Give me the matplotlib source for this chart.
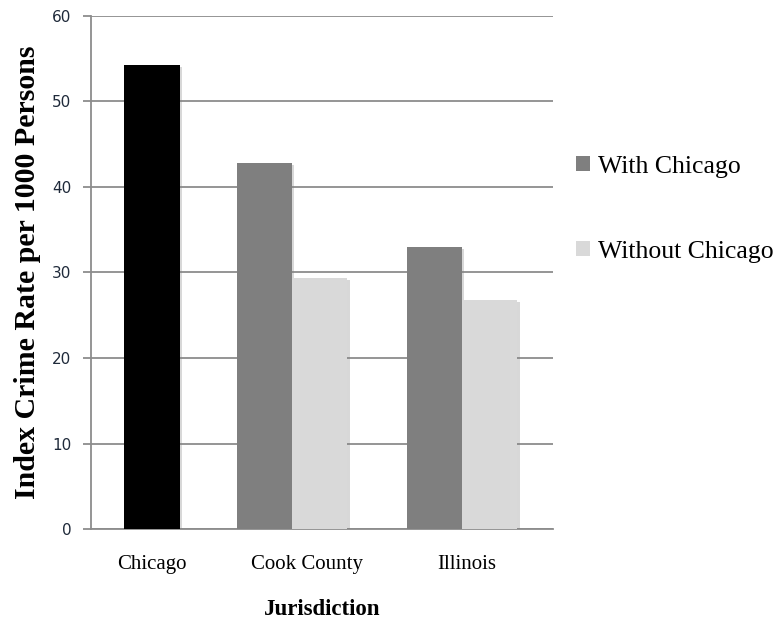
import matplotlib
matplotlib.use("Agg")
import matplotlib.pyplot as plt
import matplotlib.patheffects as pe
from matplotlib.patches import Patch

# Index crime rate per 1000 persons
categories = ["Chicago", "Cook County", "Illinois"]
chicago_value = [54.3]
with_chicago = [42.8, 33.0]
without_chicago = [29.4, 26.8]
series_names = ["With Chicago", "Without Chicago"]
y_ticks = [0, 10, 20, 30, 40, 50, 60]

# layout: category slots on a 0..3 axis
chicago_pos = [0.396]
group_pos = [1.305, 2.409]
label_pos = [0.396, 1.40, 2.44]
bar_w = 0.36

fig = plt.figure(figsize=(7.82, 6.22), dpi=100)
ax = fig.add_axes([0.1164, 0.1495, 0.5908, 0.8248])

shadow = [pe.SimplePatchShadow(offset=(1.5, -1.5), shadow_rgbFace="0.5", alpha=0.3), pe.Normal()]

b0 = ax.bar(chicago_pos, chicago_value, width=bar_w, color="#000000", zorder=3)
b1 = ax.bar([p - bar_w / 2 for p in group_pos], with_chicago, width=bar_w,
            color="#7f7f7f", zorder=3)
b2 = ax.bar([p + bar_w / 2 for p in group_pos], without_chicago, width=bar_w,
            color="#d9d9d9", zorder=3)
for bars in (b0, b1, b2):
    for r in bars:
        r.set_path_effects(shadow)

ax.set_xlim(0, 3)
ax.set_ylim(0, 60)
ax.set_yticks(y_ticks)
ax.yaxis.grid(True, color="#8c8c8c", linewidth=1.3, zorder=0)
ax.set_axisbelow(True)

for s in ("top", "right"):
    ax.spines[s].set_visible(False)
for s in ("left", "bottom"):
    ax.spines[s].set_color("#8c8c8c")
    ax.spines[s].set_linewidth(1.3)

ax.tick_params(axis="y", length=6, width=1.3, color="#8c8c8c", pad=8,
               labelsize=11, labelcolor="#1f2a3a")
ax.set_xticks(label_pos)
ax.set_xticklabels(categories, fontfamily="Liberation Serif", fontsize=15)
ax.tick_params(axis="x", length=0, pad=19)

ax.set_ylabel("Index Crime Rate per 1000 Persons", fontfamily="Liberation Serif",
              fontweight="bold", fontsize=21.5, labelpad=8)
ax.set_xlabel("Jurisdiction", fontfamily="Liberation Serif", fontweight="bold",
              fontsize=16.5, labelpad=18)

handles = [Patch(facecolor="#7f7f7f"), Patch(facecolor="#d9d9d9")]
fig.legend(handles, series_names, loc="upper left", bbox_to_anchor=(0.723, 0.766),
           frameon=False, prop={"family": "Liberation Serif", "size": 18.5},
           handlelength=0.55, handleheight=0.55, handletextpad=0.3,
           labelspacing=2.45, borderaxespad=0)

fig.savefig("out.png", dpi=100)
